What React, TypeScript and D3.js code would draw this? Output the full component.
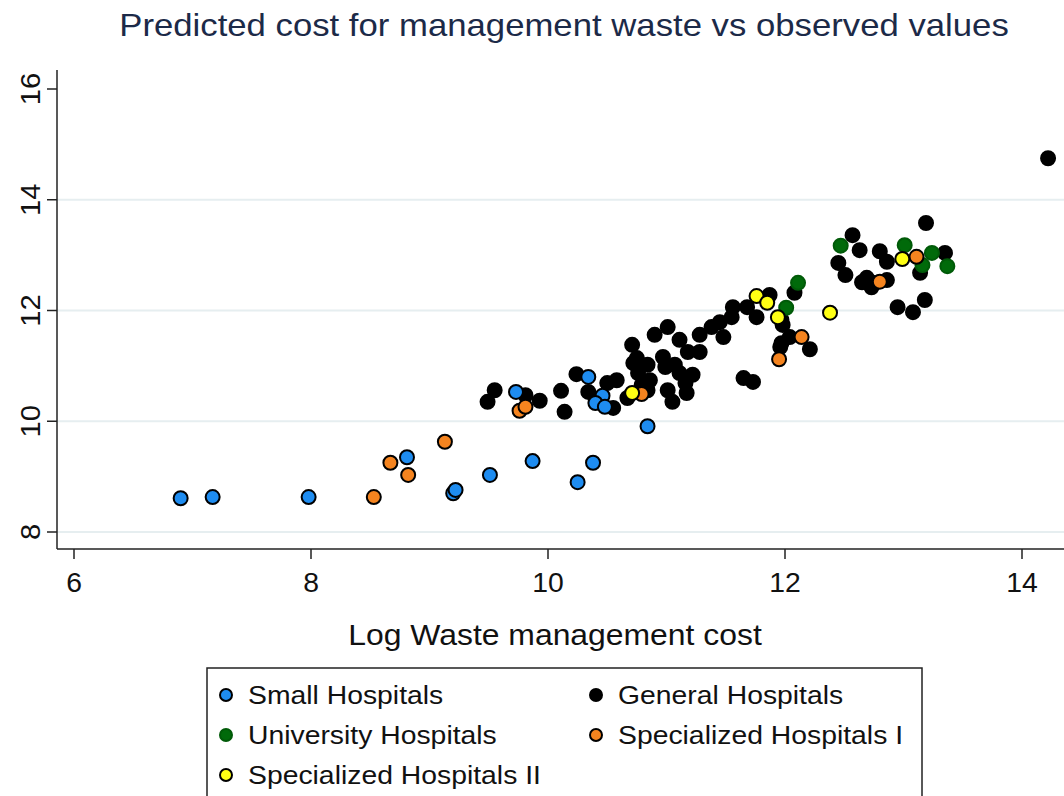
import React from "react";
import * as d3 from "d3";

type Pt = [number, number];

const smallHospitals: Pt[] = [
  [6.9, 8.61], [7.17, 8.63], [7.98, 8.63], [8.81, 9.35], [9.2, 8.7], [9.22, 8.76],
  [9.51, 9.03], [9.87, 9.28], [10.25, 8.9], [10.38, 9.25], [9.73, 10.53], [10.34, 10.8],
  [10.46, 10.46], [10.4, 10.33], [10.48, 10.26], [10.84, 9.91],
];

const generalHospitals: Pt[] = [
  [9.49, 10.35], [9.55, 10.56], [9.81, 10.47], [9.93, 10.37], [10.11, 10.55], [10.14, 10.17],
  [10.24, 10.85], [10.34, 10.53], [10.5, 10.69], [10.58, 10.74], [10.55, 10.24], [10.67, 10.42],
  [10.71, 11.38], [10.75, 11.14], [10.76, 10.87], [10.84, 11.02], [10.86, 10.74], [10.84, 10.56],
  [10.97, 11.16], [11.01, 10.56], [10.9, 11.56], [11.01, 11.7], [11.11, 11.47], [11.28, 11.56],
  [11.38, 11.7], [11.45, 11.79], [11.48, 11.52], [11.56, 12.06], [11.55, 11.88], [11.68, 12.06],
  [11.76, 11.88], [11.87, 12.28], [11.97, 11.83], [11.97, 11.41], [12.04, 11.52], [10.99, 10.98],
  [11.07, 11.02], [11.11, 10.87], [11.18, 11.25], [11.28, 11.25], [11.22, 10.84], [11.16, 10.69],
  [11.17, 10.51], [11.05, 10.35], [10.79, 10.65], [11.65, 10.78], [11.73, 10.71], [12.45, 12.86],
  [12.51, 12.64], [12.69, 12.59], [12.74, 12.5], [12.63, 13.09], [12.08, 12.32], [11.98, 11.74],
  [11.96, 11.34], [12.21, 11.3], [13.19, 13.58], [12.57, 13.36], [12.8, 13.07], [12.86, 12.88],
  [12.73, 12.42], [12.86, 12.55], [13.35, 13.04], [13.14, 12.68], [12.95, 12.06], [13.08, 11.97],
  [13.18, 12.19], [14.22, 14.75], [10.72, 11.05], [12.65, 12.51],
];

const universityHospitals: Pt[] = [
  [12.11, 12.5], [12.01, 12.05], [12.47, 13.17], [13.01, 13.18], [13.24, 13.04], [13.16, 12.82],
  [13.37, 12.8],
];

const specializedI: Pt[] = [
  [8.53, 8.63], [8.67, 9.25], [8.82, 9.03], [9.13, 9.63], [9.76, 10.19], [9.81, 10.26],
  [10.79, 10.49], [11.95, 11.12], [12.14, 11.52], [12.8, 12.52], [13.11, 12.97],
];

const specializedII: Pt[] = [
  [10.71, 10.51], [11.76, 12.26], [11.85, 12.14], [11.94, 11.88], [12.38, 11.96], [12.99, 12.93],
];

const xTicks = [6, 8, 10, 12, 14];
const yTicks = [8, 10, 12, 14, 16];
const gridTicks = [8, 10, 12, 14];

const title = "Predicted cost for management waste vs observed values";
const xTitle = "Log Waste management cost";

const series = [
  { name: "General Hospitals", data: generalHospitals, fill: "#000000", stroke: "#000000" },
  { name: "Small Hospitals", data: smallHospitals, fill: "#1e8cf0", stroke: "#000000" },
  { name: "University Hospitals", data: universityHospitals, fill: "#006a0a", stroke: "#005a08" },
  { name: "Specialized Hospitals I", data: specializedI, fill: "#f5841f", stroke: "#000000" },
  { name: "Specialized Hospitals II", data: specializedII, fill: "#ffff14", stroke: "#000000" },
];

const legendOrder = [
  "Small Hospitals", "General Hospitals",
  "University Hospitals", "Specialized Hospitals I",
  "Specialized Hospitals II",
];

export default function App() {
  const W = 1064, H = 796;
  const x = d3.scaleLinear().domain([6, 14]).range([74, 1022]);
  const y = d3.scaleLinear().domain([8, 16]).range([532, 89]);
  const axisX = 57;
  const axisY = 549;
  const topY = 70;
  const font = "'Liberation Sans', Arial, sans-serif";
  const r = 7;

  return (
    <svg width={W} height={H} style={{ position: "absolute", left: 0, top: 0, background: "#fff" }} fontFamily={font}>
      <rect x={0} y={0} width={W} height={H} fill="#ffffff" />
      <text transform="translate(564,36) scale(1.12,1)" textAnchor="middle" fontSize={31} fill="#1c2a48">{title}</text>

      {gridTicks.map((t) => (
        <line key={"g" + t} x1={axisX} x2={W} y1={y(t)} y2={y(t)} stroke="#e6eef0" strokeWidth={2} />
      ))}

      <line x1={axisX} x2={axisX} y1={topY} y2={axisY} stroke="#222" strokeWidth={1.5} />
      <line x1={axisX} x2={W} y1={axisY} y2={axisY} stroke="#222" strokeWidth={1.5} />

      {yTicks.map((t) => (
        <g key={"y" + t}>
          <line x1={axisX - 10} x2={axisX} y1={y(t)} y2={y(t)} stroke="#222" strokeWidth={1.5} />
          <text transform={`translate(${axisX - 17},${y(t)}) rotate(-90) scale(1.08,1)`} textAnchor="middle" fontSize={27} fill="#111">{t}</text>
        </g>
      ))}
      {xTicks.map((t) => (
        <g key={"x" + t}>
          <line x1={x(t)} x2={x(t)} y1={axisY} y2={axisY + 10} stroke="#222" strokeWidth={1.5} />
          <text transform={`translate(${x(t)},${axisY + 43}) scale(1.05,1)`} textAnchor="middle" fontSize={27} fill="#111">{t}</text>
        </g>
      ))}
      <text transform="translate(555,645) scale(1.1,1)" textAnchor="middle" fontSize={29} fill="#111">{xTitle}</text>

      {series.map((s) => (
        <g key={s.name}>
          {s.data.map((d, i) => (
            <circle key={i} cx={x(d[0])} cy={y(d[1])} r={r} fill={s.fill} stroke={s.stroke} strokeWidth={2} />
          ))}
        </g>
      ))}

      <rect x={207} y={668} width={715} height={140} fill="#fff" stroke="#222" strokeWidth={1.5} />
      {legendOrder.map((name, i) => {
        const s = series.find((q) => q.name === name)!;
        const col = i % 2;
        const row = Math.floor(i / 2);
        const lx = col === 0 ? 226 : 596;
        const ly = 695 + row * 40;
        return (
          <g key={name}>
            <circle cx={lx} cy={ly} r={6} fill={s.fill} stroke={s.stroke} strokeWidth={2} />
            <text transform={`translate(${lx + 22},${ly + 9}) scale(1.09,1)`} fontSize={26} fill="#111">{name}</text>
          </g>
        );
      })}
    </svg>
  );
}
